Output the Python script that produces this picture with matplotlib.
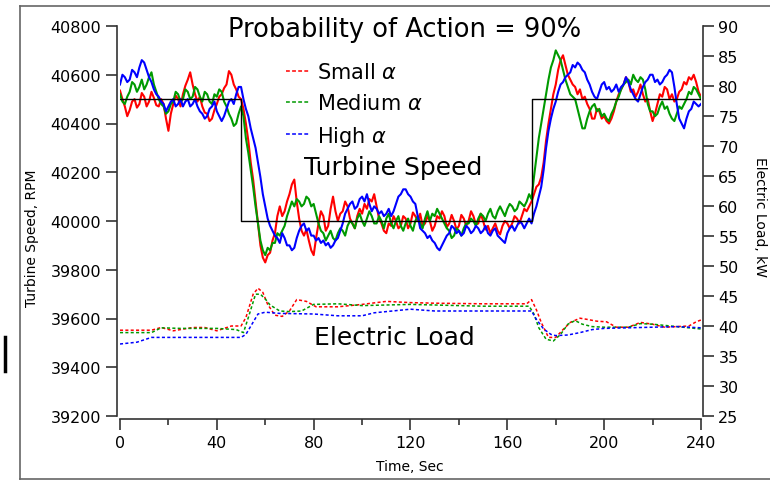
import matplotlib.pyplot as plt
import numpy as np
from matplotlib.lines import Line2D

# temps (s), une valeur par seconde pour la vitesse turbine
temps = np.arange(0, 241, 1)

vitesse_petit = [40535, 40500, 40470, 40430, 40455, 40490, 40500, 40465, 40480, 40525,
                 40510, 40470, 40490, 40530, 40505, 40475, 40470, 40500, 40480, 40420,
                 40370, 40440, 40480, 40515, 40500, 40470, 40520, 40555, 40580, 40610,
                 40560, 40520, 40490, 40510, 40470, 40445, 40440, 40410, 40420, 40455,
                 40480, 40510, 40520, 40545, 40560, 40615, 40600, 40560, 40540, 40510,
                 40500, 40460, 40400, 40330, 40240, 40170, 40080, 39990, 39900, 39850,
                 39830, 39860, 39870, 39920, 39950, 40020, 40060, 40020, 40040, 40080,
                 40110, 40150, 40170, 40080, 40010, 39960, 39940, 39965, 39920, 39880,
                 39860, 39930, 39990, 40040, 40020, 39960, 39980, 40050, 40100, 40040,
                 40000, 40030, 40040, 40080, 40060, 40010, 39990, 39970, 40020, 40050,
                 40030, 40070, 40050, 40090, 40080, 40110, 40060, 40010, 39990, 39960,
                 39950, 39990, 39980, 40020, 40000, 39970, 39980, 40020, 40010, 39970,
                 39990, 40035, 40020, 40000, 40030, 39980, 39990, 40020, 40000, 39960,
                 39980, 40020, 40010, 40040, 40020, 39975, 39990, 40025, 40000, 39965,
                 39980, 40025, 40010, 39980, 40000, 40040, 40020, 39985, 39990, 40030,
                 40000, 39965, 39980, 39950, 39970, 39990, 39960, 39945, 39980, 40000,
                 39990, 39970, 39990, 40020, 40010, 39990, 40020, 40050, 40040, 40060,
                 40080, 40110, 40140, 40150, 40180, 40240, 40330, 40400, 40460, 40520,
                 40560, 40620, 40660, 40680, 40640, 40600, 40580, 40560, 40550, 40520,
                 40540, 40500, 40510, 40480, 40460, 40420, 40420, 40460, 40450, 40420,
                 40430, 40410, 40400, 40420, 40450, 40490, 40520, 40540, 40560, 40590,
                 40570, 40530, 40540, 40510, 40530, 40560, 40520, 40490, 40500, 40450,
                 40410, 40440, 40480, 40520, 40510, 40550, 40540, 40500, 40520, 40490,
                 40500, 40530, 40540, 40570, 40560, 40590, 40580, 40600, 40570, 40530,
                 40510]

vitesse_moyen = [40520, 40490, 40480, 40510, 40530, 40570, 40560, 40530, 40550, 40580,
                 40540, 40560, 40590, 40610, 40560, 40530, 40500, 40480, 40470, 40440,
                 40450, 40480, 40490, 40530, 40520, 40490, 40500, 40540, 40530, 40500,
                 40510, 40550, 40540, 40510, 40490, 40530, 40520, 40490, 40480, 40520,
                 40510, 40540, 40530, 40490, 40470, 40440, 40420, 40390, 40400, 40440,
                 40470, 40430, 40340, 40280, 40210, 40140, 40060, 39990, 39920, 39880,
                 39860, 39890, 39880, 39910, 39910, 39950, 39940, 39960, 39980, 40020,
                 40050, 40080, 40060, 40090, 40080, 40060, 40070, 40100, 40090, 40060,
                 40070, 40030, 39990, 39960, 39950, 39920, 39940, 39960, 39930, 39920,
                 39950, 39970, 39960, 39940, 39980, 40000, 39990, 39970, 40010, 40030,
                 40000, 39980, 40010, 40040, 40020, 39990, 39990, 40020, 40000, 39970,
                 40010, 40030, 39990, 39970, 40000, 40020, 39980, 39960, 39990, 40010,
                 39980, 39960, 40000, 40020, 39990, 39970, 40010, 40040, 40000, 40030,
                 40020, 40050, 40030, 40010, 39990, 39970, 39960, 39930, 39940, 39970,
                 39960, 39940, 39970, 39990, 39990, 40010, 40000, 39980, 40010, 40030,
                 40020, 40000, 40030, 40050, 40020, 40010, 40040, 40060, 40040, 40020,
                 40050, 40070, 40060, 40040, 40050, 40080, 40070, 40060, 40080, 40110,
                 40090, 40180, 40260, 40340, 40400, 40460, 40520, 40580, 40630, 40660,
                 40700, 40680, 40660, 40620, 40580, 40550, 40520, 40510, 40500, 40460,
                 40420, 40380, 40380, 40420, 40450, 40470, 40480, 40450, 40460, 40430,
                 40440, 40420, 40410, 40440, 40460, 40490, 40510, 40540, 40560, 40570,
                 40580, 40560, 40600, 40580, 40570, 40590, 40580, 40540, 40480, 40450,
                 40450, 40430, 40440, 40470, 40490, 40460, 40470, 40440, 40420, 40410,
                 40440, 40470, 40460, 40480, 40500, 40530, 40520, 40550, 40540, 40520,
                 40500]

vitesse_haut = [40560, 40600, 40590, 40570, 40580, 40620, 40610, 40590, 40630, 40660,
                40650, 40620, 40590, 40570, 40540, 40520, 40510, 40490, 40480, 40450,
                40470, 40490, 40500, 40470, 40480, 40500, 40470, 40490, 40500, 40470,
                40480, 40500, 40470, 40450, 40440, 40420, 40430, 40460, 40470, 40490,
                40450, 40430, 40410, 40430, 40460, 40490, 40500, 40480, 40520, 40550,
                40550, 40500, 40460, 40430, 40380, 40340, 40300, 40240, 40180, 40110,
                40060, 40010, 39980, 39960, 39940, 39930, 39910, 39950, 39930, 39900,
                39900, 39880, 39890, 39930, 39960, 39980, 39990, 39960, 39970, 39940,
                39940, 39920, 39930, 39910, 39920, 39900, 39910, 39890, 39900, 39920,
                39930, 39960, 39990, 40030, 40050, 40070, 40080, 40050, 40060, 40090,
                40100, 40080, 40110, 40070, 40040, 40060, 40050, 40030, 40040, 40020,
                40030, 40050, 40020, 40040, 40070, 40100, 40110, 40130, 40130, 40110,
                40100, 40080, 40070, 40020, 39970, 39960, 39950, 39930, 39940, 39920,
                39910, 39890, 39880, 39900, 39920, 39940, 39950, 39980, 39970, 39950,
                39960, 39940, 39950, 39980, 39970, 39950, 39960, 39980, 39970, 39950,
                39960, 39980, 39950, 39940, 39960, 39970, 39940, 39930, 39920, 39910,
                39950, 39970, 39980, 39960, 39980, 40000, 39990, 39970, 39990, 40010,
                39990, 40030, 40060, 40100, 40140, 40210, 40300, 40370, 40420, 40460,
                40490, 40530, 40560, 40570, 40590, 40600, 40610, 40640, 40630, 40650,
                40640, 40620, 40610, 40580, 40560, 40530, 40510, 40500, 40530, 40560,
                40570, 40540, 40550, 40530, 40540, 40560, 40530, 40550, 40560, 40590,
                40570, 40540, 40520, 40500, 40490, 40520, 40550, 40570, 40580, 40600,
                40600, 40570, 40580, 40560, 40570, 40590, 40600, 40620, 40610, 40550,
                40480, 40420, 40400, 40380, 40420, 40450, 40460, 40490, 40480, 40470,
                40480]

# consigne de vitesse
consigne_t = [0, 50, 50, 170, 170, 240]
consigne_v = [40500, 40500, 40000, 40000, 40500, 40500]

# charge electrique (kW)
charge_petit_t = [0, 13, 17, 22, 30, 35, 40, 46, 50, 52, 55, 57, 59, 61, 64, 67, 70, 73, 77, 81,
                  90, 100, 110, 120, 130, 150, 168, 170, 172, 174, 177, 180, 183, 186, 190, 193,
                  197, 201, 205, 210, 215, 220, 225, 235, 238, 240]
charge_petit = [39.3, 39.3, 39.75, 39.2, 39.75, 39.75, 39.2, 40.0, 40.0, 41.4, 45.3, 46.3, 45.6,
                43.6, 41.8, 41.6, 42.5, 44.4, 44.1, 43.2, 43.2, 43.6, 44.1, 43.9, 43.8, 43.7,
                43.7, 44.4, 42.7, 40.6, 38.1, 38.1, 39.4, 40.6, 41.3, 41.1, 40.8, 40.7, 39.8,
                39.8, 40.6, 40.3, 39.8, 40.0, 40.7, 41.0]

charge_moyen_t = [0, 13, 17, 25, 40, 48, 51, 53, 56, 58, 60, 62, 66, 70, 75, 80, 90, 100, 110,
                  120, 150, 169, 171, 173, 176, 179, 182, 185, 188, 191, 195, 200, 210, 215,
                  220, 230, 240]
charge_moyen = [38.9, 38.9, 39.7, 39.6, 39.6, 39.4, 38.9, 41.4, 45.3, 45.3, 44.5, 43.5, 42.5,
                42.4, 42.5, 43.6, 43.7, 43.4, 43.5, 43.6, 43.3, 43.3, 42.0, 39.7, 37.8, 37.5,
                38.6, 40.3, 40.9, 40.3, 39.9, 39.8, 39.8, 40.4, 40.3, 39.9, 39.5]

charge_haut_t = [0, 7, 13, 50, 52, 57, 60, 66, 80, 90, 100, 105, 120, 130, 170, 172, 175, 178,
                 180, 185, 190, 195, 200, 210, 220, 230, 240]
charge_haut = [37.0, 37.3, 38.1, 38.1, 38.6, 42.0, 42.3, 42.1, 42.0, 41.7, 41.7, 42.2, 42.8,
               42.5, 42.5, 41.1, 39.5, 38.6, 38.4, 38.5, 38.9, 39.4, 39.6, 39.7, 39.8, 39.9, 39.7]

rouge = '#ff0000'
vert = '#009a00'
bleu = '#0000ff'
gris = '#333333'

fig = plt.figure(figsize=(7.7, 4.81), dpi=100)
ax = fig.add_axes([120/770, 1-417/481, (701-120)/770, (417-27)/481])
ax2 = ax.twinx()

ax.plot(temps, vitesse_petit, color=rouge, lw=1.5)
ax.plot(temps, vitesse_moyen, color=vert, lw=1.5)
ax.plot(temps, vitesse_haut, color=bleu, lw=1.5)
ax.plot(consigne_t, consigne_v, color='black', lw=1.0)

ax2.plot(charge_petit_t, charge_petit, color=rouge, lw=1.1, ls=(0, (2, 1.5)))
ax2.plot(charge_moyen_t, charge_moyen, color=vert, lw=1.1, ls=(0, (2, 1.5)))
ax2.plot(charge_haut_t, charge_haut, color=bleu, lw=1.1, ls=(0, (2, 1.5)))

ax.set_xlim(0, 240)
ax.set_ylim(39200, 40800)
ax2.set_ylim(25, 90)

for a in (ax, ax2):
    a.spines['top'].set_visible(False)
    for s in a.spines.values():
        s.set_color(gris)
        s.set_linewidth(1.2)
ax.spines['right'].set_visible(False)
ax2.spines['left'].set_visible(False)
ax2.spines['bottom'].set_visible(False)
ax.spines['left'].set_position(('outward', 2.5))
ax.spines['bottom'].set_position(('outward', 2.5))
ax2.spines['right'].set_position(('outward', 1.5))

ax.set_yticks(np.arange(39200, 40801, 200))
ax.set_xticks(np.arange(0, 241, 40))
ax.set_xticks(np.arange(20, 240, 40), minor=True)
ax2.set_yticks(np.arange(25, 91, 5))
ax.tick_params(axis='both', which='major', length=8, width=1.2, color=gris,
               labelsize=11.5, pad=3)
ax.tick_params(axis='x', which='minor', length=4.5, width=1.2, color=gris)
ax2.tick_params(axis='y', length=8, width=1.2, color=gris, labelsize=11.5, pad=3)

fig.text(32/770, 1-238/481, 'Turbine Speed, RPM', rotation=90, ha='center', va='center', fontsize=10)
fig.text(760/770, 1-217/481, 'Electric Load, kW', rotation=-90, ha='center', va='center', fontsize=10)
fig.text(410/770, 1-467/481, 'Time, Sec', ha='center', va='center', fontsize=10)

fig.text(405/770, 1-30/481, 'Probability of Action = 90%', ha='center', va='center', fontsize=18.5)
fig.text(393/770, 1-168/481, 'Turbine Speed', ha='center', va='center', fontsize=18)
fig.text(394/770, 1-338/481, 'Electric Load', ha='center', va='center', fontsize=18)

poignees = [Line2D([0], [0], color=c, lw=1.1, ls=(0, (2.5, 1.5))) for c in (rouge, vert, bleu)]
ax.legend(poignees, ['Small $\\alpha$', 'Medium $\\alpha$', 'High $\\alpha$'],
          loc='upper left', bbox_to_anchor=((286-120)/581, 1-(63-27)/390),
          frameon=False, fontsize=15, handlelength=1.1, handletextpad=0.4,
          labelspacing=0.52, borderaxespad=0, borderpad=0)

# cadre autour de la figure
cadre = dict(color='#666666', lw=1.2, transform=fig.transFigure)
fig.add_artist(Line2D([20/770, 20/770], [1-480/481, 1-7/481], **cadre))
fig.add_artist(Line2D([20/770, 1], [1-7/481, 1-7/481], **cadre))
fig.add_artist(Line2D([20/770, 1], [1-480/481, 1-480/481], **cadre))
fig.add_artist(Line2D([5/770, 5/770], [1-372/481, 1-338/481], color='black', lw=2.5,
                      transform=fig.transFigure))

fig.savefig('out.png', dpi=100)
